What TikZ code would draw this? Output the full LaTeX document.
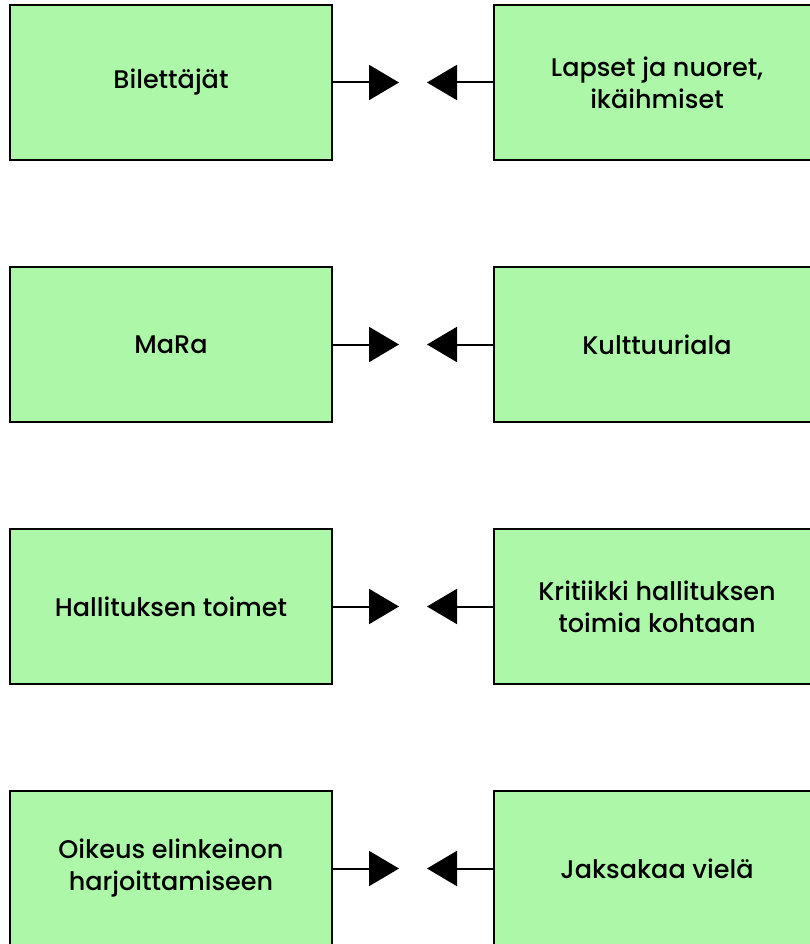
\documentclass[tikz,border=0pt]{standalone}
\usepackage{fontspec}
\setmainfont{Poppins}[UprightFont=* Medium]
\usepackage{tikz}
\usetikzlibrary{arrows.meta,positioning}
\definecolor{boxgreen}{RGB}{173,248,168}

\begin{document}
\begin{tikzpicture}[
    x=1pt,y=-1pt,
    topic/.style={draw,line width=2pt,fill=boxgreen,minimum width=322pt,minimum height=155pt,align=center,inner sep=0pt,font=\fontsize{25.5}{32}\selectfont},
    pointer/.style={-{Triangle[length=30pt,width=35pt]},line width=2pt,black}
  ]
    \useasboundingbox (0,0) rectangle (810,944);
    \clip (0,0) rectangle (810,944);

    % Left column
    \node[topic] (bile) at (171,82.5) {Bilettäjät};
    \node[topic] (mara) at (171,344.5) {MaRa};
    \node[topic] (hall) at (171,606.5) {Hallituksen toimet};
    \node[topic] (oike) at (171,868.5) {Oikeus elinkeinon\\harjoittamiseen};

    % Right column
    \node[topic,minimum width=326pt] (laps) at (657,82.5) {Lapset ja nuoret,\\ikäihmiset};
    \node[topic,minimum width=326pt] (kult) at (657,344.5) {Kulttuuriala};
    \node[topic,minimum width=326pt] (krit) at (657,606.5) {Kritiikki hallituksen\\toimia kohtaan};
    \node[topic,minimum width=326pt] (jaks) at (657,868.5) {Jaksakaa vielä};

    % Arrow tips in the gap
    \coordinate (bilet) at (399,82.5);
    \coordinate (lapst) at (427,82.5);
    \coordinate (marat) at (399,344.5);
    \coordinate (kultt) at (427,344.5);
    \coordinate (hallt) at (399,606.5);
    \coordinate (kritt) at (427,606.5);
    \coordinate (oiket) at (399,868.5);
    \coordinate (jakst) at (427,868.5);

    % Connections
    \draw[pointer] (bile) -- (bilet);
    \draw[pointer] (laps) -- (lapst);
    \draw[pointer] (mara) -- (marat);
    \draw[pointer] (kult) -- (kultt);
    \draw[pointer] (hall) -- (hallt);
    \draw[pointer] (krit) -- (kritt);
    \draw[pointer] (oike) -- (oiket);
    \draw[pointer] (jaks) -- (jakst);
  \end{tikzpicture}
\end{document}
